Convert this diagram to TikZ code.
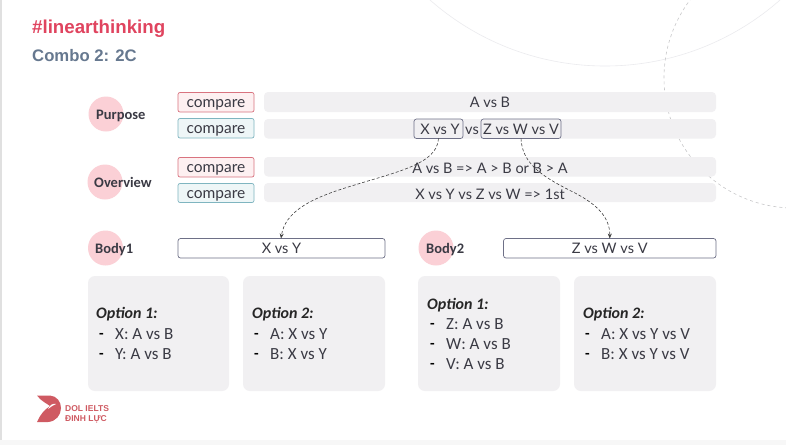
\documentclass[tikz,border=0pt]{standalone}
\usepackage{fontspec}
\setmainfont{Carlito}
\newfontfamily\titlefont{Liberation Sans}
\newfontfamily\barfont{Lato}
\definecolor{barfill}{HTML}{F1F0F2}
\definecolor{pinkc}{HTML}{FBD0D6}
\definecolor{redb}{HTML}{D9737F}
\definecolor{redf}{HTML}{FDF0F1}
\definecolor{tealb}{HTML}{7FB5C0}
\definecolor{tealf}{HTML}{EEF6F7}
\definecolor{slateb}{HTML}{6E7087}
\definecolor{txt}{HTML}{3A3A44}
\definecolor{hashc}{HTML}{E0445F}
\definecolor{combo}{HTML}{66788F}
\definecolor{logoc}{HTML}{CF5A62}
\definecolor{deco}{HTML}{EBEBEE}
\usetikzlibrary{arrows.meta}
\tikzset{
 x=1pt,y=-1pt,
 cmpred/.style={rounded corners=2pt,draw=redb,fill=redf,line width=.7pt,text=txt,font=\barfont\fontsize{15.5}{17}\selectfont,inner sep=0pt,outer sep=0pt,text height=12pt,text depth=2pt},
 cmpteal/.style={rounded corners=2pt,draw=tealb,fill=tealf,line width=.7pt,text=txt,font=\barfont\fontsize{15.5}{17}\selectfont,inner sep=0pt,outer sep=0pt,text height=12pt,text depth=2pt},
 barbox/.style={rounded corners=4pt,fill=barfill,text=txt,font=\barfont\fontsize{14.5}{17}\selectfont,inner sep=0pt,outer sep=0pt,text height=12pt,text depth=2pt},
 inbox/.style={rounded corners=2.5pt,draw=slateb,line width=.7pt,text=txt,font=\barfont\fontsize{14.5}{17}\selectfont,inner sep=0pt,outer sep=0pt,text height=12pt,text depth=0pt},
 whitebox/.style={rounded corners=2.5pt,draw=slateb,fill=white,line width=.7pt,text=txt,font=\barfont\fontsize{14.5}{17}\selectfont,inner sep=0pt,outer sep=0pt,text height=12pt,text depth=2pt},
 bartext/.style={text=txt,font=\barfont\fontsize{14.5}{17}\selectfont,inner sep=0pt,text height=12pt,text depth=2pt},
 dot/.style={circle,fill=pinkc,minimum size=35pt,inner sep=0pt,outer sep=0pt},
 sect/.style={text=txt,font=\fontsize{14.5}{16}\selectfont\bfseries,inner sep=0pt,text height=10pt,text depth=0pt},
 optbox/.style={rounded corners=7pt,fill=barfill,inner sep=0pt,outer sep=0pt},
 opttext/.style={text=txt,anchor=west,inner sep=0pt,font=\fontsize{17}{19}\selectfont},
 optdash/.style={text=black,anchor=west,inner sep=0pt,yshift=-1.5pt,font=\fontsize{15}{19}\selectfont\bfseries},
 optitle/.style={text=black!85,anchor=west,inner sep=0pt,font=\fontsize{16}{19}\selectfont\bfseries\itshape},
 logotext/.style={anchor=west,inner sep=0pt,text=logoc,font=\titlefont\bfseries\fontsize{8.5}{10}\selectfont,text height=6pt,text depth=0pt},
 link/.style={densely dashed,line width=.6pt,draw=black!75,-{Stealth[length=5pt,width=4pt]}},
}
\newcommand{\rowbox}[7]{\node[#1,minimum width=#4-#3,minimum height=#6-#5] (#2) at ({(#3+#4)/2},{(#5+#6)/2}) {#7};}
\begin{document}
\begin{tikzpicture}
\useasboundingbox (0,0) rectangle (786,445);
\fill[white] (0,0) rectangle (786,445);
\fill[black!12] (0,0) rectangle (1.5,440);
\fill[black!3] (0,440) rectangle (786,445);
\begin{scope}
\clip (0,0) rectangle (786,440);
\draw[deco,line width=.6pt] (605,-199) circle[radius=265];
\draw[deco!85!black,line width=.6pt,dashed] (794,78) circle[radius=130];
\end{scope}
\node[anchor=west,inner sep=0pt,text=hashc,font=\titlefont\bfseries\fontsize{18.7}{21}\selectfont] (title) at (32,29) {\#linearthinking};
\node[anchor=west,inner sep=0pt,text=combo,font=\titlefont\bfseries\fontsize{16.7}{19}\selectfont] (combo) at (32,56) {Combo 2: 2C};
\node[dot] (c1) at (106,114) {};
\node[dot] (c2) at (105,182) {};
\node[dot] (c3) at (105.5,248) {};
\node[dot] (c4) at (436,248) {};
\node[sect,anchor=west] (purpose) at (96,114.5) {Purpose};
\node[sect,anchor=west] (overview) at (94,182.5) {Overview};
\node[sect,anchor=west] (body1) at (95,248.5) {Body1};
\node[sect,anchor=west] (body2) at (426,248.5) {Body2};
\rowbox{cmpred}{cp1}{178}{254}{92.5}{112}{compare}
\rowbox{cmpteal}{cp2}{178}{254}{118.5}{138}{compare}
\rowbox{cmpred}{cp3}{178}{254}{157.5}{177}{compare}
\rowbox{cmpteal}{cp4}{178}{254}{183.5}{202.5}{compare}
\rowbox{barbox}{b1}{264}{716}{92}{112}{A vs B}
\rowbox{barbox}{b2}{264}{716}{119}{138.5}{}
\rowbox{barbox}{b3}{264}{716}{157}{176.5}{}
\rowbox{barbox}{b4}{264}{716}{183}{202}{}
\node[bartext] (t3) at (490,168) {A vs B => A > B or B > A};
\node[bartext] (t4) at (490,194) {X vs Y vs Z vs W => 1st};
\rowbox{inbox}{xy}{414}{463}{119}{138.5}{\hspace{3pt}X vs Y}
\rowbox{inbox}{zwv}{481}{561}{119}{138.5}{Z vs W vs V}
\node[bartext] (vs) at (472,129) {vs};
\rowbox{whitebox}{bx1}{178}{385}{238.5}{258}{X vs Y}
\rowbox{whitebox}{bx2}{503.5}{716}{238.5}{258}{Z vs W vs V}
\draw[link] (xy.south) .. controls (437,165) and (395,172) .. (345,188) .. controls (310,199) and (285,212) .. (bx1.north -| 281,0);
\draw[link] (zwv.south) .. controls (522,165) and (545,178) .. (575,193) .. controls (598,205) and (610,218) .. (bx2.north);
\rowbox{optbox}{o1}{88}{229}{276}{391}{}
\rowbox{optbox}{o2}{243}{385}{276}{391}{}
\rowbox{optbox}{o3}{418}{560}{276}{391}{}
\rowbox{optbox}{o4}{574}{716}{276}{391}{}
\node[optitle] (o1t) at (96,314) {Option 1:};
\node[optdash] (o1d1) at (99,334) {-};
\node[opttext] (o1a) at (115,334) {X: A vs B};
\node[optdash] (o1d2) at (99,354) {-};
\node[opttext] (o1b) at (115,354) {Y: A vs B};
\node[optitle] (o2t) at (252,314) {Option 2:};
\node[optdash] (o2d1) at (254,334) {-};
\node[opttext] (o2a) at (270,334) {A: X vs Y};
\node[optdash] (o2d2) at (254,354) {-};
\node[opttext] (o2b) at (270,354) {B: X vs Y};
\node[optitle] (o3t) at (427,305) {Option 1:};
\node[optdash] (o3d1) at (430,324) {-};
\node[opttext] (o3a) at (446,324) {Z: A vs B};
\node[optdash] (o3d2) at (430,344) {-};
\node[opttext] (o3b) at (446,344) {W: A vs B};
\node[optdash] (o3d3) at (430,364) {-};
\node[opttext] (o3c) at (446,364) {V: A vs B};
\node[optitle] (o4t) at (583,314) {Option 2:};
\node[optdash] (o4d1) at (585,334) {-};
\node[opttext] (o4a) at (601,334) {A: X vs Y vs V};
\node[optdash] (o4d2) at (585,354) {-};
\node[opttext] (o4b) at (601,354) {B: X vs Y vs V};
\fill[logoc] (37,395.5) -- (50,395.5) .. controls (57,396) and (61,402) .. (61,408) .. controls (61,415) and (56,421.5) .. (48,422) -- (37,422) .. controls (40,415) and (44,410) .. (50,406) .. controls (46,403) and (41,401) .. (37,395.5) -- cycle;
\fill[white] (48,409) .. controls (50,405) and (53,403) .. (56,404) .. controls (53,405) and (51,407) .. (48,409) -- cycle;
\node[logotext] (logo1) at (65,408.5) {DOL IELTS};
\node[logotext] (logo2) at (65,418) {ĐINH LỰC};
\end{tikzpicture}
\end{document}
